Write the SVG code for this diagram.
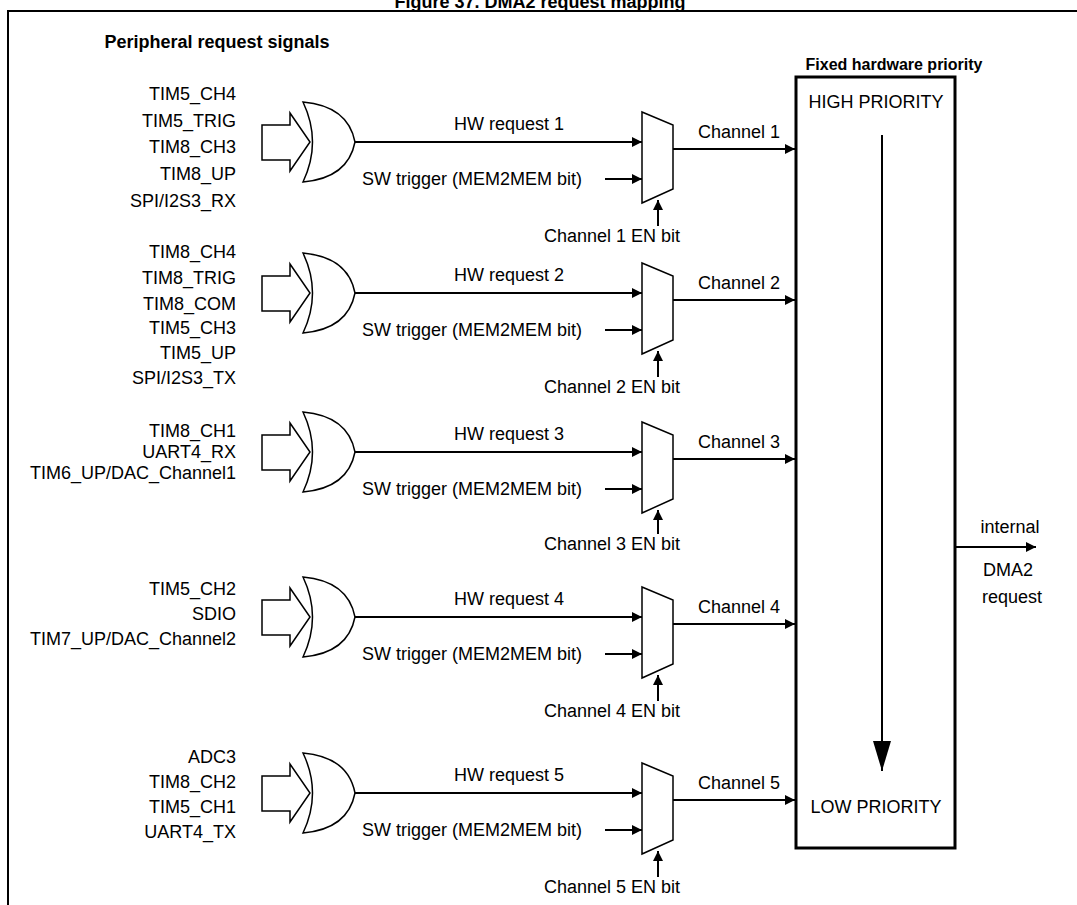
<svg xmlns="http://www.w3.org/2000/svg" width="1077" height="905" viewBox="0 0 1077 905">
<defs>
<marker id="ah" viewBox="0 0 10 10" refX="10" refY="5" markerWidth="10" markerHeight="10" markerUnits="userSpaceOnUse" orient="auto"><path d="M0,0 L10,5 L0,10 z" fill="#000"/></marker>
<marker id="big" viewBox="0 0 30 18" refX="30" refY="9" markerWidth="30" markerHeight="18" markerUnits="userSpaceOnUse" orient="auto"><path d="M0,0 L30,9 L0,18 z" fill="#000"/></marker>
</defs>
<style>
text{font-family:"Liberation Sans",Arial,sans-serif;font-size:18px;fill:#000}
.b{font-weight:bold;font-size:16px}
.r{text-anchor:end}
.m{text-anchor:middle}
.w{fill:#fff;stroke:#000;stroke-width:1.5}
</style>
<rect width="1077" height="905" fill="#fff"/>
<text x="540" y="8" class="m" style="font-weight:bold;font-size:18px">Figure 37. DMA2 request mapping</text>
<path d="M8,905 V11 H1077" fill="none" stroke="#000" stroke-width="2"/>
<text x="217" y="48" class="m" style="font-weight:bold;font-size:18px">Peripheral request signals</text>
<text x="894" y="70" class="b m">Fixed hardware priority</text>
<g id="priority">
<rect x="796" y="77" width="159" height="771" fill="none" stroke="#000" stroke-width="3"/>
<text x="876" y="108" class="m">HIGH PRIORITY</text>
<text x="876" y="813" class="m">LOW PRIORITY</text>
<path d="M882,135 V771" stroke="#000" stroke-width="2" marker-end="url(#big)"/>
</g>
<g id="output">
<text x="1010" y="533" class="m">internal</text>
<text x="1008" y="576" class="m">DMA2</text>
<text x="1012" y="603" class="m">request</text>
</g>
<g id="connectors" fill="none" stroke="#000" stroke-width="2">
<path d="M955,547 H1036" marker-end="url(#ah)"/>
<g transform="translate(0,142)">
<path d="M355,0 H642" marker-end="url(#ah)"/><path d="M605,37 H642" marker-end="url(#ah)"/><path d="M673,7 H795" marker-end="url(#ah)"/><path d="M658,84 V58" marker-end="url(#ah)"/></g>
<g transform="translate(0,293)">
<path d="M355,0 H642" marker-end="url(#ah)"/><path d="M605,37 H642" marker-end="url(#ah)"/><path d="M673,7 H795" marker-end="url(#ah)"/><path d="M658,84 V58" marker-end="url(#ah)"/></g>
<g transform="translate(0,452)">
<path d="M355,0 H642" marker-end="url(#ah)"/><path d="M605,37 H642" marker-end="url(#ah)"/><path d="M673,7 H795" marker-end="url(#ah)"/><path d="M658,82 V58" marker-end="url(#ah)"/></g>
<g transform="translate(0,617)">
<path d="M355,0 H642" marker-end="url(#ah)"/><path d="M605,37 H642" marker-end="url(#ah)"/><path d="M673,7 H795" marker-end="url(#ah)"/><path d="M658,84 V58" marker-end="url(#ah)"/></g>
<g transform="translate(0,793)">
<path d="M355,0 H642" marker-end="url(#ah)"/><path d="M605,37 H642" marker-end="url(#ah)"/><path d="M673,7 H795" marker-end="url(#ah)"/><path d="M658,84 V58" marker-end="url(#ah)"/></g>
</g>
<defs>
<g id="gate">
<path class="w" d="M262,-17 H290 V-29 L310,0 L290,29 V18 H262 Z"/>
<path class="w" d="M303,-40 Q348,-36 355,0 Q348,36 303,40 Q322,0 303,-40 Z"/>
<path class="w" d="M642,-30 L673,-17 V47 L642,61 Z"/>
</g>
</defs>
<g id="row1" transform="translate(0,142)">
<use href="#gate"/>
<text x="236" y="-42" class="r">TIM5_CH4</text><text x="236" y="-15" class="r">TIM5_TRIG</text><text x="236" y="11" class="r">TIM8_CH3</text><text x="236" y="38" class="r">TIM8_UP</text><text x="236" y="65" class="r">SPI/I2S3_RX</text>
<text x="509" y="-12" class="m">HW request 1</text><text x="582" y="43" class="r">SW trigger (MEM2MEM bit)</text><text x="739" y="-4" class="m">Channel 1</text><text x="612" y="100" class="m">Channel 1 EN bit</text>
</g>
<g id="row2" transform="translate(0,293)">
<use href="#gate"/>
<text x="236" y="-35" class="r">TIM8_CH4</text><text x="236" y="-9" class="r">TIM8_TRIG</text><text x="236" y="17" class="r">TIM8_COM</text><text x="236" y="41" class="r">TIM5_CH3</text><text x="236" y="66" class="r">TIM5_UP</text><text x="236" y="91" class="r">SPI/I2S3_TX</text>
<text x="509" y="-12" class="m">HW request 2</text><text x="582" y="43" class="r">SW trigger (MEM2MEM bit)</text><text x="739" y="-4" class="m">Channel 2</text><text x="612" y="100" class="m">Channel 2 EN bit</text>
</g>
<g id="row3" transform="translate(0,452)">
<use href="#gate"/>
<text x="236" y="-15" class="r">TIM8_CH1</text><text x="236" y="6" class="r">UART4_RX</text><text x="236" y="27" class="r">TIM6_UP/DAC_Channel1</text>
<text x="509" y="-12" class="m">HW request 3</text><text x="582" y="43" class="r">SW trigger (MEM2MEM bit)</text><text x="739" y="-4" class="m">Channel 3</text><text x="612" y="98" class="m">Channel 3 EN bit</text>
</g>
<g id="row4" transform="translate(0,617)">
<use href="#gate"/>
<text x="236" y="-22" class="r">TIM5_CH2</text><text x="236" y="3" class="r">SDIO</text><text x="236" y="28" class="r">TIM7_UP/DAC_Channel2</text>
<text x="509" y="-12" class="m">HW request 4</text><text x="582" y="43" class="r">SW trigger (MEM2MEM bit)</text><text x="739" y="-4" class="m">Channel 4</text><text x="612" y="100" class="m">Channel 4 EN bit</text>
</g>
<g id="row5" transform="translate(0,793)">
<use href="#gate"/>
<text x="236" y="-30" class="r">ADC3</text><text x="236" y="-5" class="r">TIM8_CH2</text><text x="236" y="20" class="r">TIM5_CH1</text><text x="236" y="45" class="r">UART4_TX</text>
<text x="509" y="-12" class="m">HW request 5</text><text x="582" y="43" class="r">SW trigger (MEM2MEM bit)</text><text x="739" y="-4" class="m">Channel 5</text><text x="612" y="100" class="m">Channel 5 EN bit</text>
</g>
</svg>
